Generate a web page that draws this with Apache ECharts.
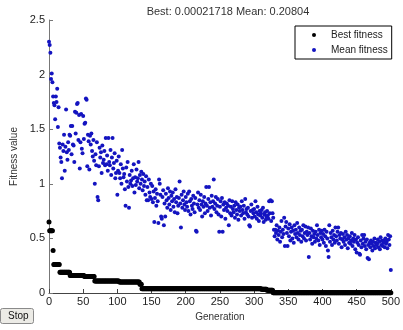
<!DOCTYPE html>
<html>
<head>
<meta charset="utf-8">
<script src="https://cdn.jsdelivr.net/npm/echarts@6/dist/echarts.min.js"></script>
<style>
  html, body { margin: 0; padding: 0; background: #fff; }
  #chart { width: 403px; height: 330px; }
</style>
</head>
<body>
<div id="chart"></div>
<script>
// generation axis ticks
const genTicks = [0, 50, 100, 150, 200, 250, 300, 350, 400, 450, 500]
const fitTicks = [0, 0.5, 1, 1.5, 2, 2.5]

// best fitness per generation (0..500)
const bestFitness = [
  0.65,
  0.57, 0.57, 0.57, 0.57, 0.57,
  0.39,
  0.26, 0.26, 0.26, 0.26, 0.26, 0.26, 0.26, 0.26, 0.26,
  0.19, 0.19, 0.19, 0.19, 0.19, 0.19, 0.19, 0.19, 0.19, 0.19, 0.19, 0.19, 0.19, 0.19, 0.19,
  0.16, 0.16, 0.16, 0.16, 0.16, 0.16, 0.16, 0.16, 0.16, 0.16, 0.16, 0.16, 0.16, 0.16, 0.16, 0.16, 0.16, 0.16, 0.16, 0.16, 0.16,
  0.15, 0.15, 0.15, 0.15, 0.15, 0.15, 0.15, 0.15, 0.15, 0.15, 0.15, 0.15, 0.15, 0.15, 0.15,
  0.11, 0.11, 0.11, 0.11, 0.11, 0.11, 0.11, 0.11, 0.11, 0.11, 0.11, 0.11, 0.11, 0.11, 0.11, 0.11, 0.11, 0.11, 0.11, 0.11, 0.11, 0.11, 0.11, 0.11, 0.11,
  0.11, 0.11, 0.11, 0.11, 0.11, 0.11, 0.11, 0.11, 0.11, 0.11, 0.11,
  0.10, 0.10, 0.10, 0.10, 0.10, 0.10, 0.10, 0.10, 0.10, 0.10, 0.10, 0.10, 0.10, 0.10, 0.10, 0.10, 0.10, 0.10, 0.10, 0.10, 0.10, 0.10, 0.10, 0.10, 0.10,
  0.10, 0.10, 0.10, 0.10, 0.10,
  0.08, 0.08, 0.08,
  0.04, 0.04, 0.04, 0.04, 0.04, 0.04, 0.04, 0.04, 0.04, 0.04, 0.04, 0.04, 0.04, 0.04, 0.04, 0.04, 0.04, 0.04, 0.04, 0.04, 0.04, 0.04, 0.04, 0.04, 0.04,
  0.04, 0.04, 0.04, 0.04, 0.04, 0.04, 0.04, 0.04, 0.04, 0.04, 0.04, 0.04, 0.04, 0.04, 0.04, 0.04, 0.04, 0.04, 0.04, 0.04, 0.04, 0.04, 0.04, 0.04, 0.04,
  0.04, 0.04, 0.04, 0.04, 0.04, 0.04, 0.04, 0.04, 0.04, 0.04, 0.04, 0.04, 0.04, 0.04, 0.04, 0.04, 0.04, 0.04, 0.04, 0.04, 0.04, 0.04, 0.04, 0.04, 0.04,
  0.04, 0.04, 0.04, 0.04, 0.04, 0.04, 0.04, 0.04, 0.04, 0.04, 0.04, 0.04, 0.04, 0.04, 0.04, 0.04, 0.04, 0.04, 0.04, 0.04, 0.04, 0.04, 0.04, 0.04, 0.04,
  0.04, 0.04, 0.04, 0.04, 0.04, 0.04, 0.04, 0.04, 0.04, 0.04, 0.04, 0.04, 0.04, 0.04, 0.04, 0.04, 0.04, 0.04, 0.04, 0.04, 0.04, 0.04, 0.04, 0.04, 0.04,
  0.04, 0.04, 0.04, 0.04, 0.04, 0.04, 0.04, 0.04, 0.04, 0.04, 0.04, 0.04, 0.04, 0.04, 0.04, 0.04, 0.04, 0.04, 0.04, 0.04, 0.04, 0.04, 0.04, 0.04, 0.04,
  0.04, 0.04, 0.04, 0.04, 0.04, 0.04, 0.04, 0.04, 0.04, 0.04, 0.04, 0.04, 0.04, 0.04, 0.04, 0.04, 0.04, 0.04, 0.04, 0.04, 0.04, 0.04, 0.04, 0.04, 0.04,
  0.035, 0.035, 0.035, 0.035, 0.035, 0.035, 0.035, 0.035,
  0.025, 0.025, 0.025, 0.025, 0.025, 0.025, 0.025, 0.025, 0.025,
  0.003, 0.003, 0.003, 0.003, 0.003, 0.003, 0.003, 0.003, 0.003, 0.003, 0.003, 0.003, 0.003, 0.003, 0.003, 0.003, 0.003, 0.003, 0.003, 0.003, 0.003, 0.003, 0.003, 0.003, 0.003,
  0.003, 0.003, 0.003, 0.003, 0.003, 0.003, 0.003, 0.003, 0.003, 0.003, 0.003, 0.003, 0.003, 0.003, 0.003, 0.003, 0.003, 0.003, 0.003, 0.003, 0.003, 0.003, 0.003, 0.003, 0.003,
  0.003, 0.003, 0.003, 0.003, 0.003, 0.003, 0.003, 0.003, 0.003, 0.003, 0.003, 0.003, 0.003, 0.003, 0.003, 0.003, 0.003, 0.003, 0.003, 0.003, 0.003, 0.003, 0.003, 0.003, 0.003,
  0.003, 0.003, 0.003, 0.003, 0.003, 0.003, 0.003, 0.003, 0.003, 0.003, 0.003, 0.003, 0.003, 0.003, 0.003, 0.003, 0.003, 0.003, 0.003, 0.003, 0.003, 0.003, 0.003, 0.003, 0.003,
  0.003, 0.003, 0.003, 0.003, 0.003, 0.003, 0.003, 0.003, 0.003, 0.003, 0.003, 0.003, 0.003, 0.003, 0.003, 0.003, 0.003, 0.003, 0.003, 0.003, 0.003, 0.003, 0.003, 0.003, 0.003,
  0.003, 0.003, 0.003, 0.003, 0.003, 0.003, 0.003, 0.003, 0.003, 0.003, 0.003, 0.003, 0.003, 0.003, 0.003, 0.003, 0.003, 0.003, 0.003, 0.003, 0.003, 0.003, 0.003, 0.003, 0.003,
  0.003, 0.003, 0.003, 0.003, 0.003, 0.003, 0.003, 0.003, 0.003, 0.003, 0.003, 0.003, 0.003, 0.003, 0.003, 0.003, 0.003, 0.003, 0.003, 0.003, 0.003, 0.003, 0.003
]

// mean fitness per generation (0..500), 10 per row
const meanFitness = [
  2.30, 2.27, 2.20, 1.96, 2.01, 1.93, 1.80, 1.74, 1.72, 1.59,
  1.80, 1.75, 1.87, 1.52, 1.70, 1.37, 1.33, 1.24, 1.20, 1.05,
  1.36, 1.30, 1.45, 1.12, 1.34, 1.68, 1.29, 1.22, 1.38, 1.31,
  1.45, 1.44, 1.53, 1.27, 1.53, 1.36, 1.35, 1.20, 1.66, 1.46,
  1.65, 1.73, 1.74, 1.40, 1.63, 1.14, 1.38, 1.64, 1.32, 1.28,
  1.62, 1.41, 1.55, 1.56, 1.78, 1.77, 1.16, 1.45, 1.39, 1.13,
  1.44, 1.36, 1.46, 1.30, 1.25, 1.40, 1.21, 1.00, 1.27, 1.17,
  1.38, 0.88, 0.85, 1.16, 1.33, 1.24, 1.29, 1.10, 1.35, 1.19,
  1.22, 1.30, 1.17, 1.42, 1.18, 1.26, 1.12, 1.42, 1.20, 1.17,
  1.31, 1.08, 1.24, 1.42, 1.14, 1.19, 1.28, 1.05, 1.10, 1.21,
  0.90, 1.12, 1.25, 1.10, 1.05, 1.18, 1.00, 1.31, 1.14, 1.06,
  1.09, 0.95, 0.80, 1.15, 1.02, 1.20, 0.97, 0.78, 1.08, 1.00,
  1.03, 1.12, 0.98, 1.05, 1.18, 0.92, 1.06, 0.99, 1.13, 1.02,
  1.05, 1.20, 0.96, 1.08, 1.00, 1.11, 1.04, 0.94, 1.09, 0.98,
  1.02, 0.90, 1.07, 0.85, 0.97, 0.85, 1.04, 0.92, 0.88, 1.00,
  0.86, 0.98, 0.83, 0.93, 0.65, 0.87, 0.95, 0.80, 0.91, 0.84,
  0.64, 1.04, 1.00, 0.90, 0.70, 0.68, 0.88, 0.94, 0.62, 0.82,
  0.70, 0.91, 0.85, 0.78, 0.96, 0.87, 0.81, 0.93, 0.76, 0.89,
  0.84, 0.92, 0.79, 0.86, 0.74, 0.95, 0.83, 0.88, 0.73, 0.80,
  0.87, 1.02, 0.82, 0.60, 0.90, 0.78, 0.85, 0.93, 0.81, 0.76,
  0.88, 0.83, 0.79, 0.91, 0.75, 0.93, 0.84, 0.72, 0.86, 0.80,
  0.77, 0.89, 0.82, 0.74, 0.87, 0.57, 0.56, 0.81, 0.92, 0.78,
  0.85, 0.76, 0.90, 0.81, 0.70, 0.84, 0.79, 0.88, 0.73, 0.82,
  0.97, 0.80, 0.75, 0.86, 0.97, 0.78, 0.83, 0.71, 0.89, 0.79,
  0.84, 1.04, 0.77, 0.82, 0.88, 0.74, 0.80, 0.86, 0.72, 0.56,
  0.79, 0.84, 0.70, 0.87, 0.56, 0.81, 0.76, 0.83, 0.68, 0.78,
  0.82, 0.75, 0.80, 0.62, 0.85, 0.73, 0.79, 0.71, 0.84, 0.77,
  0.74, 0.80, 0.69, 0.83, 0.76, 0.72, 0.81, 0.67, 0.78, 0.75,
  0.79, 0.71, 0.84, 0.76, 0.73, 0.80, 0.68, 0.86, 0.74, 0.77,
  0.72, 0.78, 0.70, 0.62, 0.61, 0.75, 0.81, 0.69, 0.76, 0.73,
  0.77, 0.70, 0.84, 0.74, 0.68, 0.79, 0.72, 0.66, 0.75, 0.71,
  0.73, 0.76, 0.69, 0.78, 0.65, 0.72, 0.74, 0.67, 0.70, 0.75,
  0.71, 0.68, 0.84, 0.73, 0.85, 0.66, 0.84, 0.73, 0.69, 0.58,
  0.52, 0.58, 0.55, 0.62, 0.49, 0.57, 0.53, 0.60, 0.47, 0.56,
  0.66, 0.51, 0.58, 0.54, 0.69, 0.43, 0.61, 0.65, 0.55, 0.43,
  0.59, 0.52, 0.63, 0.48, 0.56, 0.60, 0.50, 0.57, 0.46, 0.62,
  0.54, 0.58, 0.51, 0.64, 0.55, 0.49, 0.60, 0.53, 0.57, 0.47,
  0.58, 0.52, 0.62, 0.50, 0.55, 0.61, 0.48, 0.56, 0.53, 0.60,
  0.33, 0.55, 0.49, 0.59, 0.52, 0.45, 0.57, 0.51, 0.54, 0.47,
  0.56, 0.50, 0.62, 0.53, 0.48, 0.58, 0.44, 0.55, 0.51, 0.57,
  0.49, 0.54, 0.46, 0.58, 0.52, 0.43, 0.56, 0.50, 0.39, 0.33,
  0.62, 0.47, 0.55, 0.51, 0.44, 0.57, 0.49, 0.53, 0.46, 0.60,
  0.52, 0.48, 0.56, 0.60, 0.45, 0.53, 0.50, 0.55, 0.42, 0.49,
  0.54, 0.47, 0.51, 0.44, 0.56, 0.49, 0.53, 0.41, 0.50, 0.46,
  0.52, 0.45, 0.48, 0.55, 0.43, 0.50, 0.47, 0.53, 0.40, 0.49,
  0.37, 0.46, 0.51, 0.44, 0.36, 0.35, 0.48, 0.42, 0.53, 0.45,
  0.50, 0.53, 0.43, 0.47, 0.40, 0.49, 0.32, 0.44, 0.31, 0.46,
  0.42, 0.48, 0.45, 0.39, 0.47, 0.43, 0.50, 0.41, 0.46, 0.44,
  0.45, 0.49, 0.42, 0.47, 0.40, 0.51, 0.44, 0.48, 0.43, 0.46,
  0.48, 0.42, 0.50, 0.45, 0.47, 0.41, 0.53, 0.49, 0.44, 0.52,
  0.21
]

const bestData = bestFitness.map((v, i) => [i, v])
const meanData = meanFitness.map((v, i) => [i, v])

const chart = echarts.init(document.getElementById('chart'))
const font = 'Liberation Sans, Arial, sans-serif'

chart.setOption({
  animation: false,
  backgroundColor: '#fff',
  title: {
    text: 'Best: 0.00021718 Mean: 0.20804',
    left: 223,
    textAlign: 'center',
    top: 1,
    textStyle: { fontFamily: font, fontSize: 11, fontWeight: 'normal', color: '#333' }
  },
  legend: {
    orient: 'vertical',
    left: 295,
    top: 26,
    width: 96,
    padding: [4, 4, 4, 17],
    itemGap: 5,
    itemWidth: 4,
    itemHeight: 4,
    borderColor: '#000',
    borderWidth: 1,
    backgroundColor: '#fff',
    textStyle: { fontFamily: font, fontSize: 10, color: '#222', padding: [0, 0, 0, 10] },
    data: [
      { name: 'Best fitness', icon: 'circle' },
      { name: 'Mean fitness', icon: 'circle' }
    ]
  },
  grid: { left: 49, right: 6, top: 20, bottom: 37 },
  xAxis: {
    type: 'value',
    min: genTicks[0],
    max: genTicks[genTicks.length - 1],
    interval: 50,
    name: 'Generation',
    nameLocation: 'middle',
    nameGap: 18,
    nameTextStyle: { fontFamily: font, fontSize: 10, color: '#333' },
    axisLine: { lineStyle: { color: '#444', width: 1 } },
    axisTick: { inside: true, length: 4, lineStyle: { color: '#444' } },
    axisLabel: { fontFamily: font, fontSize: 11, color: '#222', margin: 3 },
    splitLine: { show: false }
  },
  yAxis: {
    type: 'value',
    min: fitTicks[0],
    max: fitTicks[fitTicks.length - 1],
    interval: 0.5,
    name: 'Fitness value',
    nameLocation: 'middle',
    nameGap: 24,
    nameTextStyle: { fontFamily: font, fontSize: 10, color: '#333' },
    axisLine: { show: true, lineStyle: { color: '#777', width: 1 } },
    axisTick: { show: true, inside: true, length: 4, lineStyle: { color: '#777' } },
    axisLabel: { fontFamily: font, fontSize: 11, color: '#222', margin: 4 },
    splitLine: { show: false }
  },
  series: [
    {
      name: 'Best fitness',
      type: 'scatter',
      symbol: 'circle',
      symbolSize: 5,
      itemStyle: { color: '#000', opacity: 1 },
      data: bestData,
      z: 3
    },
    {
      name: 'Mean fitness',
      type: 'scatter',
      symbol: 'circle',
      symbolSize: 4,
      itemStyle: { color: '#1414c0', opacity: 1 },
      data: meanData,
      z: 2
    }
  ],
  graphic: [
    {
      type: 'rect',
      left: 0,
      top: 308,
      shape: { width: 33, height: 15, r: 2 },
      style: { fill: '#ecebe6', stroke: '#8a8a8a', lineWidth: 1 }
    },
    {
      type: 'text',
      left: 8,
      top: 311,
      style: { text: 'Stop', fontFamily: font, fontSize: 10, fill: '#111' }
    }
  ]
})
</script>
</body>
</html>
